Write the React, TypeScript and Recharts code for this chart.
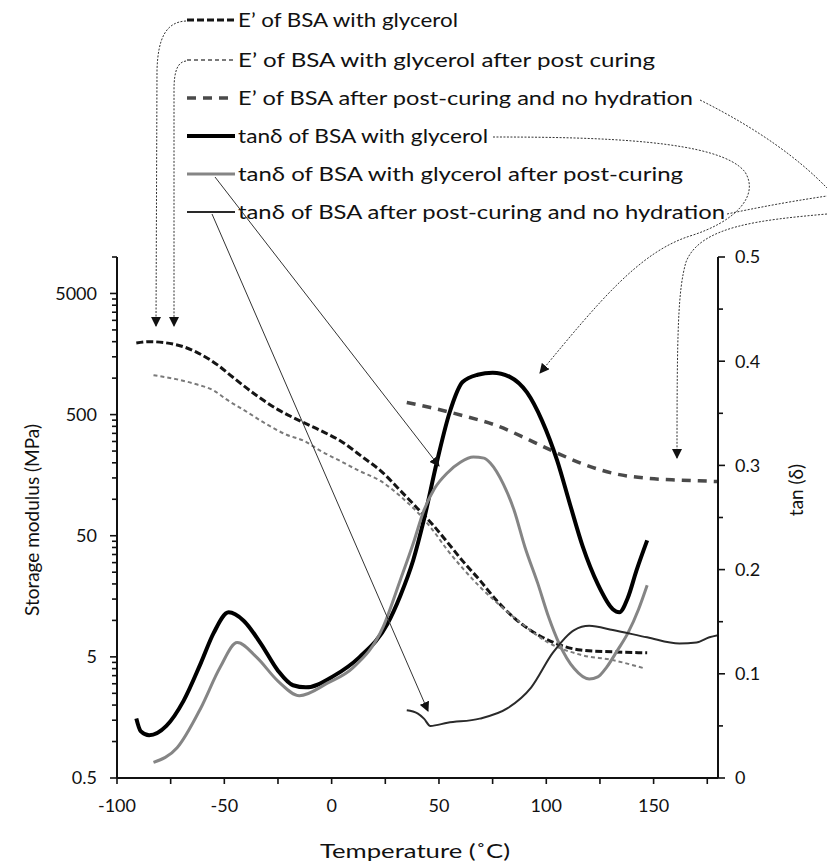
import React from 'react';
import { LineChart, Line, XAxis, YAxis } from 'recharts';

// E' of BSA with glycerol
const eGlyTemp = [-91, -85, -72, -63, -53, -46, -35, -25, -15, -5, 4, 15, 23, 32, 40, 47, 54, 61, 69, 77, 85, 100, 116, 131, 147];
const eGlyVal = [1950, 2000, 1880, 1640, 1280, 1016, 720, 550, 446, 368, 304, 219, 171, 118, 84, 62, 44, 31, 21.5, 14.5, 10.5, 7.0, 5.7, 5.5, 5.4];

// E' of BSA with glycerol after post curing
const ePostTemp = [-83, -72, -63, -55, -49, -39, -30, -21, -13, -5, 4, 13, 23, 32, 40, 47, 54, 61, 69, 77, 88, 100, 116, 131, 145];
const ePostVal = [1057, 977, 889, 792, 667, 520, 413, 341, 304, 250, 207, 171, 141, 106, 78, 56, 38, 27, 19, 14, 9.6, 6.7, 5.2, 4.7, 4.05];

// E' of BSA after post-curing and no hydration
const eDryTemp = [35, 46, 61, 77, 92, 105, 116, 131, 147, 162, 176, 180];
const eDryVal = [630, 572, 491, 405, 309, 241, 199, 164, 149, 144, 141, 140];

// tan delta of BSA with glycerol
const tGlyTemp = [-91, -89, -85, -77, -69, -61, -55, -48, -41, -33, -25, -18, -12, 1, 13, 26, 32, 38, 43, 49, 55, 61, 68, 75, 83, 91, 98, 105, 111, 117, 124, 131, 134, 138, 142, 147];
const tGlyVal = [0.057, 0.045, 0.041, 0.05, 0.074, 0.11, 0.139, 0.159, 0.151, 0.129, 0.103, 0.089, 0.087, 0.098, 0.116, 0.148, 0.175, 0.209, 0.248, 0.303, 0.351, 0.38, 0.387, 0.389, 0.385, 0.37, 0.343, 0.305, 0.263, 0.222, 0.186, 0.162, 0.159, 0.173, 0.199, 0.228];

// tan delta of BSA with glycerol after post-curing
const tPostTemp = [-83, -72, -61, -52, -44, -35, -25, -15, -2, 10, 24, 32, 38, 43, 48, 54, 60, 66, 71, 74, 80, 85, 90, 96, 101, 106, 113, 120, 124, 128, 133, 138, 143, 147];
const tPostVal = [0.015, 0.029, 0.067, 0.106, 0.13, 0.116, 0.093, 0.079, 0.091, 0.106, 0.145, 0.19, 0.225, 0.257, 0.278, 0.293, 0.303, 0.308, 0.307, 0.302, 0.282, 0.257, 0.222, 0.187, 0.155, 0.129, 0.105, 0.095, 0.097, 0.106, 0.122, 0.139, 0.162, 0.185];

// tan delta of BSA after post-curing and no hydration
const tDryTemp = [35, 40, 43, 46, 54, 69, 82, 93, 103, 113, 120, 131, 147, 162, 170, 176, 180];
const tDryVal = [0.065, 0.062, 0.057, 0.05, 0.053, 0.057, 0.067, 0.087, 0.12, 0.142, 0.146, 0.142, 0.135, 0.129, 0.13, 0.135, 0.137];

const xTicks = [-100, -75, -50, -25, 0, 25, 50, 75, 100, 125, 150, 175];
const xLabels = [-100, -50, 0, 50, 100, 150];
const leftLabels = [0.5, 5, 50, 500, 5000];
const rightTicks = [0, 0.05, 0.1, 0.15, 0.2, 0.25, 0.3, 0.35, 0.4, 0.45, 0.5];
const rightLabels = ['0', '0.1', '0.2', '0.3', '0.4', '0.5'];

const legendNames = [
  'E\u2019 of BSA with glycerol',
  'E\u2019 of BSA with glycerol after post curing',
  'E\u2019 of BSA after post-curing and no hydration',
  'tan\u03b4 of BSA with glycerol',
  'tan\u03b4 of BSA with glycerol after post-curing',
  'tan\u03b4 of BSA after post-curing and no hydration',
];
// rendered widths of the legend texts in the original figure
const legendWidths = [220, 417, 455, 250, 445, 487];

const toRows = (ts: number[], vs: number[]) => ts.map((t, i) => ({ t, v: vs[i] }));

// minor log ticks: 0.5, 1, 1.5 ... inside every decade
const leftTicks: number[] = [];
leftLabels.slice(0, 4).forEach((b) => {
  for (let k = 1; k < 10; k++) leftTicks.push(b * k);
});
leftTicks.push(5000, 10000);

const FONT = 'Lato, "Open Sans", sans-serif';
const INK = '#111';

const STYLES = [
  { stroke: '#151515', width: 3, dash: '7 3' },
  { stroke: '#7a7a7a', width: 2, dash: '4 3' },
  { stroke: '#4a4a4a', width: 3.5, dash: '9 7' },
  { stroke: '#000', width: 4, dash: undefined },
  { stroke: '#858585', width: 3, dash: undefined },
  { stroke: '#2a2a2a', width: 2, dash: undefined },
];

const isMajor = (v: number) => leftLabels.some((m) => Math.abs(m - v) < 1e-6);

const LeftTick = (props: any) => {
  const { x, y, payload } = props;
  const major = isMajor(payload.value);
  return (
    <g>
      <line x1={x} x2={x - (major ? 7 : 5)} y1={y} y2={y} stroke={INK} strokeWidth={1.6} />
      {major && (
        <text x={x - 20} y={y} dy="0.35em" textAnchor="end" fontFamily={FONT} fontSize={18} fill={INK}>
          {payload.value}
        </text>
      )}
    </g>
  );
};

const RightTick = (props: any) => {
  const { x, y, payload } = props;
  const idx = rightTicks.indexOf(payload.value);
  const major = idx % 2 === 0;
  return (
    <g>
      <line x1={x} x2={x + (major ? 7 : 5)} y1={y} y2={y} stroke={INK} strokeWidth={1.6} />
      {major && (
        <text x={x + 17} y={y} dy="0.35em" textAnchor="start" fontFamily={FONT} fontSize={18} fill={INK}>
          {rightLabels[idx / 2]}
        </text>
      )}
    </g>
  );
};

const BottomTick = (props: any) => {
  const { x, y, payload } = props;
  const major = xLabels.includes(payload.value);
  return (
    <g>
      <line x1={x} x2={x} y1={y} y2={y + 6} stroke={INK} strokeWidth={1.6} />
      {major && (
        <text x={x} y={y + 28} dy="0.35em" textAnchor="middle" fontFamily={FONT} fontSize={18} fill={INK}>
          {payload.value}
        </text>
      )}
    </g>
  );
};

const LEGEND_Y = [20, 60, 98, 136, 174, 212];

const Overlay = () => (
  <svg width={827} height={867} style={{ position: 'absolute', left: 0, top: 0, pointerEvents: 'none' }}>
    <defs>
      <marker id="ah" markerWidth={10} markerHeight={10} refX={9} refY={5} orient="auto" markerUnits="userSpaceOnUse">
        <path d="M0,0 L10,5 L0,10 z" fill={INK} />
      </marker>
    </defs>
    {legendNames.map((name, i) => (
      <g key={name}>
        <line x1={187} x2={235} y1={LEGEND_Y[i]} y2={LEGEND_Y[i]} stroke={STYLES[i].stroke}
          strokeWidth={STYLES[i].width} strokeDasharray={STYLES[i].dash} />
        <text x={238} y={LEGEND_Y[i]} dy="0.35em" fontFamily={FONT} fontSize={19.5} fill={INK}
          textLength={legendWidths[i]} lengthAdjust="spacingAndGlyphs">{name}</text>
      </g>
    ))}
    <g fill="none" stroke="#333" strokeWidth={1} strokeDasharray="2 1.5">
      <path d="M186 21 C166 22 158 38 157 70 L156 326" markerEnd="url(#ah)" />
      <path d="M186 61 C178 62 174 70 174 90 L174 326" markerEnd="url(#ah)" />
      <path d="M700 100 C760 130 800 160 827 188" />
      <path d="M827 214 C760 220 700 226 686 262 C678 290 677 330 677 458" markerEnd="url(#ah)" />
      <path d="M493 137 C600 137 720 140 745 172 C760 196 735 222 690 236 C640 252 600 300 540 373" markerEnd="url(#ah)" />
      <path d="M727 214 C770 205 800 200 827 196" />
    </g>
    <g fill="none" stroke="#333" strokeWidth={1}>
      <path d="M215 177 L439 466" markerEnd="url(#ah)" />
      <path d="M212 214 L428 711" markerEnd="url(#ah)" />
    </g>
    <text transform="translate(32,520) rotate(-90)" textAnchor="middle" dy="0.35em" fontFamily={FONT} fontSize={19} fill={INK}
      textLength={192} lengthAdjust="spacingAndGlyphs">
      Storage modulus (MPa)
    </text>
    <text transform="translate(796,490) rotate(-90)" textAnchor="middle" dy="0.35em" fontFamily={FONT} fontSize={19} fill={INK}>
      tan (δ)
    </text>
    <text x={415} y={851} textAnchor="middle" dy="0.35em" fontFamily={FONT} fontSize={19} fill={INK}
      textLength={190} lengthAdjust="spacingAndGlyphs">
      Temperature (˚C)
    </text>
  </svg>
);

const series = [
  { id: 'eGly', axis: 'left', rows: toRows(eGlyTemp, eGlyVal) },
  { id: 'ePost', axis: 'left', rows: toRows(ePostTemp, ePostVal) },
  { id: 'eDry', axis: 'left', rows: toRows(eDryTemp, eDryVal) },
  { id: 'tGly', axis: 'right', rows: toRows(tGlyTemp, tGlyVal) },
  { id: 'tPost', axis: 'right', rows: toRows(tPostTemp, tPostVal) },
  { id: 'tDry', axis: 'right', rows: toRows(tDryTemp, tDryVal) },
];

export default function App() {
  return (
    <div style={{ position: 'absolute', left: 0, top: 0, width: 827, height: 867, background: '#fff' }}>
      <LineChart width={827} height={867} margin={{ top: 257, right: 49, bottom: 29, left: 57 }}>
        <XAxis type="number" dataKey="t" domain={[-100, 180]} ticks={xTicks} interval={0}
          tick={<BottomTick />} tickSize={0} tickMargin={0} tickLine={false} height={60}
          axisLine={{ stroke: INK, strokeWidth: 2 }} allowDataOverflow />
        <YAxis yAxisId="left" scale="log" domain={[0.5, 10000]} ticks={leftTicks} interval={0}
          tick={<LeftTick />} tickSize={0} tickMargin={0} tickLine={false} width={60}
          axisLine={{ stroke: INK, strokeWidth: 2 }} allowDataOverflow />
        <YAxis yAxisId="right" orientation="right" domain={[0, 0.5]} ticks={rightTicks} interval={0}
          tick={<RightTick />} tickSize={0} tickMargin={0} tickLine={false} width={60}
          axisLine={{ stroke: INK, strokeWidth: 2 }} allowDataOverflow />
        {series.map((s, i) => (
          <Line key={s.id} data={s.rows} dataKey="v" yAxisId={s.axis} type="monotone"
            stroke={STYLES[i].stroke} strokeWidth={STYLES[i].width} strokeDasharray={STYLES[i].dash}
            dot={false} activeDot={false} isAnimationActive={false} />
        ))}
      </LineChart>
      <Overlay />
    </div>
  );
}
